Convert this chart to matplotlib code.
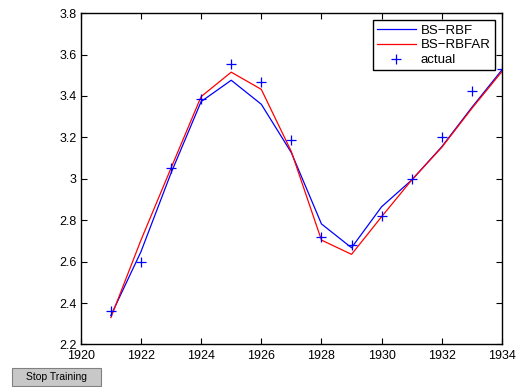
import numpy as np
import matplotlib
matplotlib.use('Agg')
import matplotlib.pyplot as plt
from matplotlib.patches import Rectangle

plt.rcParams['font.family'] = ['Liberation Sans', 'DejaVu Sans']

# data
years = [1921, 1922, 1923, 1924, 1925, 1926, 1927, 1928, 1929, 1930, 1931, 1932, 1933, 1934]
actual = [2.36, 2.60, 3.054, 3.384, 3.555, 3.468, 3.186, 2.72, 2.68, 2.82, 2.998, 3.202, 3.424, 3.531]
bs_rbf = [2.34, 2.648, 3.028, 3.373, 3.476, 3.36, 3.126, 2.782, 2.667, 2.865, 2.994, 3.155, 3.345, 3.526]
bs_rbfar = [2.33, 2.704, 3.052, 3.397, 3.515, 3.432, 3.131, 2.704, 2.635, 2.817, 2.994, 3.152, 3.34, 3.518]

fig = plt.figure(figsize=(5.18, 3.87), dpi=100)
ax = fig.add_axes([0.156, 0.110, 0.813, 0.856])

ax.plot(years, bs_rbf, color='#0000ff', linewidth=0.9, label='BS\u2212RBF')
ax.plot(years, bs_rbfar, color='#ff0000', linewidth=0.9, label='BS\u2212RBFAR')
ax.plot(years, actual, linestyle='none', marker='+', markersize=7, markeredgewidth=0.9,
        color='#0000ff', label='actual')

ax.set_xlim(1920, 1934)
ax.set_ylim(2.2, 3.8)
ax.set_xticks(np.arange(1920, 1935, 2))
ax.set_yticks(np.arange(2.2, 3.81, 0.2))
ax.set_yticklabels(['2.2', '2.4', '2.6', '2.8', '3', '3.2', '3.4', '3.6', '3.8'])
ax.tick_params(direction='in', length=4, width=0.8, top=True, right=True, labelsize=9)
ax.tick_params(axis='x', pad=4)
ax.tick_params(axis='y', pad=3)
for s in ax.spines.values():
    s.set_linewidth(1.0)

leg = ax.legend(loc='upper right', fontsize=9.5, fancybox=False, framealpha=1,
                edgecolor='black', borderaxespad=0.55, handlelength=3.0, borderpad=0.3,
                labelspacing=0.2, handletextpad=0.35)
leg.get_frame().set_linewidth(1.0)

# "Stop Training" button at the bottom left
btn = Rectangle((12 / 518, 1 / 387), 89 / 518, 18 / 387, transform=fig.transFigure,
                facecolor='#c8c8c8', edgecolor='#808080', linewidth=0.8)
fig.patches.append(btn)
fig.text(56.5 / 518, 10 / 387, 'Stop Training', ha='center', va='center', fontsize=7.5)

fig.savefig('out.png', dpi=100)
